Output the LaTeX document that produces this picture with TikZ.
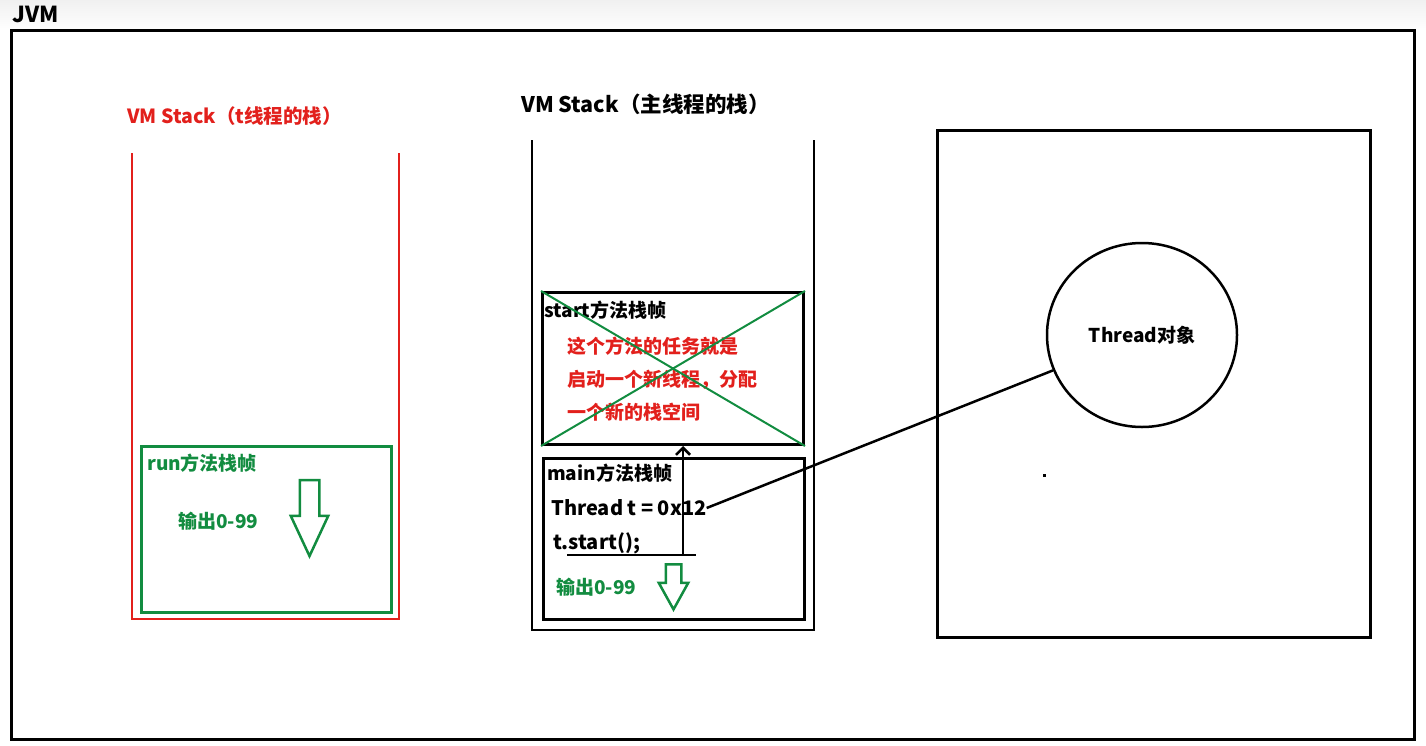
\documentclass[tikz,border=0pt]{standalone}
\usepackage{fontspec}
\setmainfont{Noto Sans CJK SC}
\usetikzlibrary{arrows.meta,shapes.arrows,shapes.geometric,positioning}
\definecolor{stackred}{RGB}{226,32,28}
\definecolor{framegreen}{RGB}{18,140,64}
\definecolor{bandgray}{RGB}{240,240,240}
\tikzset{
  txt/.style={font=\fontsize{19}{22}\selectfont\bfseries, inner sep=0pt, anchor=west},
  title/.style={font=\fontsize{20}{24}\selectfont\bfseries, inner sep=0pt, anchor=west},
  frame/.style={draw, line width=3pt, anchor=north west, inner sep=0pt},
  hollow/.style={single arrow, draw=framegreen, line width=2.5pt, rotate=-90, inner xsep=0pt, anchor=tip}
}
\begin{document}
\begin{tikzpicture}[x=1pt, y=-1pt]
\useasboundingbox (0,0) rectangle (1426,745);
\shade[top color=bandgray, bottom color=white] (0,0) rectangle (1426,30);
\node[title, font=\fontsize{22}{24}\selectfont\bfseries] (jvm) at (12,14) {JVM};
\draw[line width=3pt] (11,30) rectangle (1414,739);
\draw[stackred, line width=2.5pt] (132,153) -- (132,619) -- (399,619) -- (399,153);
\draw[line width=2.5pt] (532,140) -- (532,630) -- (814,630) -- (814,140);
\draw[line width=3pt] (937,130) rectangle (1370,637);
\node[title, stackred, font=\fontsize{19.5}{24}\selectfont\bfseries] (tstack) at (127,116) {VM Stack（t线程的栈）};
\node[title, font=\fontsize{21.5}{24}\selectfont\bfseries] (mstack) at (521,104) {VM Stack（主线程的栈）};
\node[frame, draw=framegreen, minimum width=250, minimum height=166] (runframe) at (140,445) {};
\node[txt, framegreen] (runname) at (147,463) {run方法栈帧};
\node[txt, framegreen] (runout) at (178,521) {输出0-99};
\node[hollow, inner ysep=8.5pt, minimum height=76, single arrow head extend=9, single arrow tip angle=50] (runarrow) at (309.5,559) {};
\node[frame, minimum width=261, minimum height=152] (startframe) at (541,291) {};
\node[txt] (startname) at (544,310) {start方法栈帧};
\node[txt, stackred, font=\fontsize{19}{33}\selectfont\bfseries, align=left, anchor=north west] (startnote) at (567,337) {这个方法的任务就是\\启动一个新线程，分配\\一个新的栈空间};
\draw[framegreen, line width=2pt] (startframe.north west) -- (startframe.south east);
\draw[framegreen, line width=2pt] (startframe.south west) -- (startframe.north east);
\node[frame, minimum width=261, minimum height=161] (mainframe) at (542,457) {};
\node[txt] (mainname) at (547,473) {main方法栈帧};
\node[txt, font=\fontsize{20}{22}\selectfont\bfseries] (tref) at (551,508) {Thread t = 0x12};
\node[txt, font=\fontsize{20}{22}\selectfont\bfseries] (tcall) at (553,543) {t.start();};
\node[txt, framegreen] (mainout) at (556,587) {输出0-99};
\node[hollow, inner ysep=6.5pt, minimum height=45, single arrow head extend=7, single arrow tip angle=58] (mainarrow) at (673.5,612) {};
\coordinate (callleft) at (567,555);
\coordinate (callright) at (696,555);
\coordinate (callpt) at (683,555);
\draw[line width=2.5pt] (callleft) -- (callright);
\draw[line width=2.5pt, -{Straight Barb[length=7pt, width=14pt]}] (callpt) -- (callpt |- startframe.south);
\node[draw, ellipse, line width=2.5pt, minimum width=190, minimum height=184, font=\fontsize{19}{22}\selectfont\bfseries] (threadobj) at (1142,335) {Thread对象};
\draw[line width=2.5pt] (tref.east) -- (threadobj);
\fill (1043,474) rectangle (1046,477);
\end{tikzpicture}
\end{document}
